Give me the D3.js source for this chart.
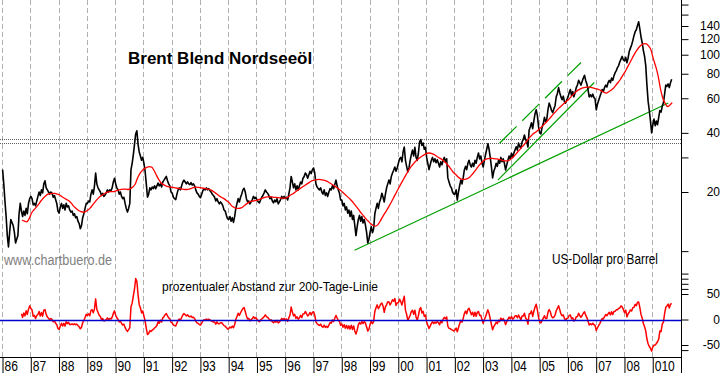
<!DOCTYPE html>
<html>
<head>
<meta charset="utf-8">
<script src="https://cdn.jsdelivr.net/npm/d3@7"></script>
<style>
body { margin: 0; background: #fff; }
text { font-family: "Liberation Sans", Arial, sans-serif; }
</style>
</head>
<body>
<div id="chart"></div>
<script>
// Brent, two values per month, starting Jan 1986
var priceStart = 1986;
var price = [
  26, 22, 18, 15, 12, 10.5, 12.5, 14.5, 14, 13.5, 12.5, 11, 11.5, 12, 15.5, 17.5, 16, 15, 16, 15.2, 16.5, 15.5, 17.5, 18.5,
  19, 18.5, 17.2, 17.5, 17, 18, 19, 20, 19.2, 20.5, 19.8, 22, 22.8, 21, 20.5, 20, 19.5, 20, 19.7, 18.8, 19.2, 18.3, 17.5, 16,
  15.6, 16.8, 17.5, 16.5, 17.2, 16.2, 17.5, 16.8, 17, 16.2, 15.8, 16, 15.2, 15.5, 14.8, 15, 14.2, 13.8, 13, 13.5, 14.8, 15.5, 16.5, 17.5,
  17.5, 18, 17.8, 19.5, 20.5, 19.5, 21.5, 25, 22, 21, 20.5, 20, 19.2, 19.7, 19, 19.3, 19.8, 20.5, 20, 20.5, 20.3, 21, 22.5, 23.5,
  22, 21, 20.5, 19.5, 20, 19, 18.5, 18.8, 17.5, 16.5, 15.8, 16.5, 17.5, 26, 28, 31, 35, 39.5, 41, 35, 32, 30.5, 29, 30,
  28, 25.5, 22, 18.8, 19.5, 21, 20.5, 21.2, 20.8, 21.5, 20.8, 21.5, 22.2, 21.5, 22, 21.2, 22.5, 23, 23.5, 24, 22.8, 22, 21.5, 20,
  19.7, 18.8, 18.5, 18.3, 19.5, 20.5, 21, 20.5, 21.5, 22.5, 23, 22.5, 22, 22.5, 22, 21.8, 22.3, 21.7, 22, 21.5, 20.5, 19.8, 19.5, 19,
  18.7, 19.5, 20.3, 20.8, 20.5, 21, 20.5, 20.8, 20.3, 20, 19.5, 19.2, 18.8, 18, 18.5, 17.8, 17.4, 17.8, 17.5, 17, 16.2, 16, 15.2, 14.6,
  14.5, 15, 14.2, 14.8, 14, 15, 16.5, 17.5, 18.5, 17.8, 18.8, 19.5, 20.5, 20.9, 20, 18.5, 17.8, 18, 17.4, 17.8, 18.3, 19, 18.5, 18.8,
  18.2, 17.8, 17.6, 18.2, 18.8, 19.2, 19.8, 20.5, 20, 19.7, 19.2, 18.5, 18.8, 18, 17.6, 18.2, 17.8, 18.5, 17.4, 17.8, 18.3, 19, 18.5, 19,
  18.5, 18.8, 18.2, 19.5, 21, 24, 22.5, 21, 22, 20.5, 21.5, 20.5, 21.5, 22.5, 22, 23.5, 24, 25, 24.5, 23.5, 24.5, 25.5, 24.8, 26,
  26.5, 25, 22, 21.2, 20.8, 20.5, 21, 20, 19.5, 20.5, 19.2, 19.8, 19, 20, 20.8, 20.5, 21.5, 20.8, 21.8, 23, 21.5, 20.5, 19.7, 18.2,
  18.2, 17, 17.5, 16.2, 16.8, 15.6, 16.2, 15, 16, 14.5, 15.2, 13.5, 12, 13.3, 14.5, 15.2, 14.2, 15, 13.9, 14.5, 13.6, 12.5, 11, 11.5,
  12.5, 13.3, 12.4, 13, 15.5, 16.5, 17.5, 16.5, 17.8, 18.5, 19.7, 18.8, 17.8, 19.5, 21, 22, 23, 22, 24, 25, 25.8, 26.8, 25.5, 26.5,
  28, 29.5, 30, 28.5, 32, 33.9, 29, 27, 25.3, 26.5, 29, 31, 32.7, 30.5, 33.8, 30, 29, 31.5, 36, 37, 34.5, 35.5, 33, 33.8,
  30, 28, 26, 27.5, 29, 30, 28.5, 29.5, 28.2, 29.2, 28, 26.8, 28.5, 27.5, 29, 30, 28.5, 29.5, 23.6, 22.5, 21.5, 21, 20, 19.5,
  19.5, 20.5, 18.2, 20, 21.5, 23, 22, 23.6, 25.9, 27, 26, 28, 29, 27.5, 26.8, 28, 27, 29, 28, 30, 31.6, 29.5, 30.5, 28,
  26.8, 29, 31, 33, 35.2, 33, 30, 26.8, 23.6, 25.5, 26.5, 28, 27, 29, 28, 30, 28.5, 29.5, 28, 25.9, 27.5, 29, 30.5, 29.5,
  31.5, 30, 31.5, 32.7, 34, 32.7, 35.5, 34, 33.5, 36, 37, 39, 37, 36, 33.9, 41.3, 43, 45, 42, 46, 50, 52.4, 49, 43,
  40, 39.5, 42.7, 44.6, 48, 45.5, 47, 52.5, 56.7, 54.6, 52, 50.7, 53, 55, 61, 63.5, 68, 64, 61, 59, 61.5, 57.5, 56.7, 59,
  61, 64, 66.5, 62, 65, 61, 64, 68, 70, 74, 72, 70, 73, 76, 78.6, 74, 71, 66.5, 61, 62.5, 61, 63, 60.5, 59.5,
  52.4, 56, 58.5, 61, 63.5, 66.5, 65, 68, 70, 68.5, 72, 74, 72, 76, 74, 78, 81, 83, 86, 88, 92, 95, 98, 94,
  93, 97, 91, 96, 104, 108, 112, 118, 125, 131, 134, 141, 147, 135, 123, 115, 105, 98, 88, 70, 58, 52, 46, 40,
  44, 47, 43.5, 46, 44, 48, 52, 51, 54.6, 57, 63, 70, 69, 71, 68, 72, 75
];

// 200-Tage-Linie, one value per month, first value Sep 1986 (month index 8)
var maStartMonth = 8;
var ma = [
  14.4, 14.2, 14.1, 14.6,
  15.6, 16.2, 16.7, 17.3, 18.0, 18.6, 19.1, 19.5, 19.6, 19.7, 19.7, 19.5,
  19.3, 18.9, 18.6, 18.3, 18.0, 17.5, 16.9, 16.5, 16.1, 15.9, 15.8, 15.9,
  16.2, 16.6, 17.2, 17.8, 18.4, 18.9, 19.3, 19.6, 19.9, 20.1, 20.1, 20.1,
  20.3, 20.5, 20.6, 20.7, 20.7, 20.6, 20.8, 21.2, 21.9, 23.5, 24.8, 25.7,
  26.3, 26.7, 26.9, 26.8, 25.8, 24.4, 23.2, 22.3, 21.8, 21.5, 21.3, 21.2,
  21.1, 21.0, 20.9, 20.8, 20.7, 20.6, 20.6, 20.7, 20.9, 21.1, 21.2, 21.1,
  21.0, 20.9, 20.8, 20.7, 20.5, 20.2, 19.8, 19.4, 19.0, 18.7, 18.4, 18.0,
  17.6, 17.0, 16.7, 16.5, 16.5, 16.6, 16.9, 17.3, 17.6, 17.9, 18.0, 18.1,
  18.2, 18.4, 18.6, 18.8, 18.9, 18.9, 18.9, 18.8, 18.8, 18.7, 18.6, 18.6,
  18.6, 18.9, 19.3, 19.6, 20.0, 20.4, 20.8, 21.2, 21.6, 22.0, 22.4, 22.8,
  23.0, 23.1, 23.2, 23.1, 23.0, 22.8, 22.5, 22.1, 21.7, 21.3, 20.9, 20.5,
  20.0, 19.5, 19.0, 18.5, 18.0, 17.4, 16.8, 16.2, 15.6, 15.1, 14.6, 14.2,
  13.8, 13.5, 13.4, 13.6, 14.2, 14.9, 15.6, 16.3, 17.1, 18.0, 19.0, 20.0,
  21.1, 22.2, 23.3, 24.5, 25.7, 26.8, 27.7, 28.6, 29.4, 30.0, 30.6, 31.1,
  31.5, 31.6, 31.4, 31.0, 30.4, 29.9, 29.4, 28.8, 28.1, 27.2, 26.2, 25.2,
  24.6, 23.9, 23.4, 23.2, 23.2, 23.4, 23.8, 24.5, 25.4, 26.3, 27.3, 28.2,
  28.9, 29.4, 29.6, 29.7, 29.6, 29.5, 29.4, 29.2, 29.0, 28.8, 28.8, 29.1,
  29.8, 30.6, 31.6, 32.6, 33.7, 34.7, 36.0, 37.3, 38.5, 39.6, 40.3, 41.3,
  42.3, 43.4, 44.7, 46.0, 47.4, 49.0, 50.6, 52.1, 53.6, 55.0, 56.4, 57.8,
  59.2, 61.0, 62.8, 64.5, 66.0, 67.0, 67.7, 68.2, 68.4, 68.3, 67.9, 67.4,
  66.9, 66.3, 65.3, 64.3, 63.8, 64.8, 66.0, 67.5, 69.8, 72.2, 75.0, 78.5,
  82.0, 86.5, 91.0, 96.0, 101.0, 105.5, 109.5, 112.3, 114.0, 113.5, 110.5, 105.5,
  95.0, 87.0, 78.0, 67.0, 60.0, 56.5, 54.5, 55.5, 57.0
];

// trend lines [year, price]
var supportLine = [[1998.47, 10.1], [2009.57, 56.8]];
var channelLow = [[2003.54, 23.0], [2006.95, 72.2]];
var channelHigh = [[2003.60, 35.4], [2006.48, 91.3]];
var levelLines = [37.1, 35.5];

// axes
var tickYears = d3.range(1986, 2011);
var yearLabels = ["86", "87", "88", "89", "90", "91", "92", "93", "94", "95", "96", "97", "98", "99",
                  "00", "01", "02", "03", "04", "05", "06", "07", "08", "010", ""];
var priceTicks = [10, 20, 30, 40, 60, 80, 100, 120, 140, 160, 180];
var priceLabels = [20, 40, 60, 80, 100, 120, 140];
var oscTicks = [-60, -50, 0, 50, 60, 70, 80, 90];
var oscLabels = [-50, 0, 50];

var width = 723, height = 373;
var axisX = 681.5;

var svg = d3.select("#chart").append("svg")
    .attr("width", width)
    .attr("height", height);

var x = d3.scaleLinear().domain([1986, 2010]).range([2, 680.5]);
var y = d3.scaleLog().domain([20, 140]).range([192, 26]);
var yOsc = d3.scaleLinear().domain([-50, 50]).range([345, 294]);

function px(v) { return Math.round(v) + 0.5; }

// squeeze text a bit, the original font is narrow
function narrow(sel, f) {
  sel.each(function () {
    var w = this.getComputedTextLength();
    d3.select(this).attr("textLength", w * f).attr("lengthAdjust", "spacingAndGlyphs");
  });
}

// build the series
var priceData = price.map(function (v, k) { return { t: priceStart + (k + 0.5) / 24, v: v }; });
var maData = ma.map(function (v, i) { return { t: priceStart + (i + maStartMonth + 0.5) / 12, v: v }; });
var oscData = [];
price.forEach(function (v, k) {
  var m = Math.floor(k / 2) - maStartMonth;
  if (m >= 0 && m < ma.length) {
    oscData.push({ t: priceStart + (k + 0.5) / 24, v: (v / ma[m] - 1) * 100 });
  }
});

// dashed year grid
svg.append("g").selectAll("line")
  .data(tickYears.slice(0, -1))
  .enter().append("line")
    .attr("x1", function (d) { return px(x(d)); })
    .attr("x2", function (d) { return px(x(d)); })
    .attr("y1", 0)
    .attr("y2", 357)
    .attr("stroke", "#b0b0b0")
    .attr("stroke-dasharray", "5,3");

// horizontal resistance lines
svg.append("g").selectAll("line")
  .data(levelLines)
  .enter().append("line")
    .attr("x1", 0)
    .attr("x2", axisX)
    .attr("y1", function (d) { return px(y(d)); })
    .attr("y2", function (d) { return px(y(d)); })
    .attr("stroke", "#606060")
    .attr("stroke-dasharray", "1,1");

// trend lines
var tline = d3.line().x(function (d) { return x(d[0]); }).y(function (d) { return y(d[1]); });
svg.append("path").attr("d", tline(supportLine)).attr("fill", "none").attr("stroke", "#00a000").attr("stroke-width", 1.2);
svg.append("path").attr("d", tline(channelLow)).attr("fill", "none").attr("stroke", "#00a000").attr("stroke-width", 1.2);
svg.append("path").attr("d", tline(channelHigh)).attr("fill", "none").attr("stroke", "#00a000").attr("stroke-width", 1.2)
  .attr("stroke-dasharray", "24,8");

// price + 200 day line
var line = d3.line().x(function (d) { return x(d.t); }).y(function (d) { return y(d.v); });
svg.append("path").datum(priceData)
  .attr("d", line)
  .attr("fill", "none")
  .attr("stroke", "#000")
  .attr("stroke-width", 1.6)
  .attr("stroke-linejoin", "round");
svg.append("path").datum(maData)
  .attr("d", d3.line().curve(d3.curveMonotoneX).x(function (d) { return x(d.t); }).y(function (d) { return y(d.v); }))
  .attr("fill", "none")
  .attr("stroke", "#ff0000")
  .attr("stroke-width", 1.3);

// oscillator
svg.append("path").datum(oscData)
  .attr("d", d3.line().x(function (d) { return x(d.t); }).y(function (d) { return yOsc(d.v); }))
  .attr("fill", "none")
  .attr("stroke", "#ff0000")
  .attr("stroke-width", 1.5)
  .attr("stroke-linejoin", "round");
svg.append("line")
  .attr("x1", 0).attr("x2", axisX)
  .attr("y1", px(yOsc(0))).attr("y2", px(yOsc(0)))
  .attr("stroke", "#0000cc")
  .attr("stroke-width", 1.5);

// right axes
var ax1 = svg.append("g")
  .attr("transform", "translate(" + axisX + ",0)")
  .call(d3.axisRight(y).tickValues(priceTicks).tickSize(7)
    .tickFormat(function (d) { return priceLabels.indexOf(d) >= 0 ? d : ""; }));
var ax2 = svg.append("g")
  .attr("transform", "translate(" + axisX + ",0)")
  .call(d3.axisRight(yOsc).tickValues(oscTicks).tickSize(7)
    .tickFormat(function (d) { return oscLabels.indexOf(d) >= 0 ? d : ""; }));
[ax1, ax2].forEach(function (a) {
  a.select(".domain").remove();
  a.selectAll("line").attr("stroke", "#000");
  a.selectAll("text")
    .attr("x", 720 - axisX)
    .attr("text-anchor", "end")
    .attr("fill", "#000")
    .style("font-size", "12px");
});
svg.append("line")
  .attr("x1", axisX).attr("x2", axisX).attr("y1", 0).attr("y2", height)
  .attr("stroke", "#000");

// year axis at the bottom
var ax3 = svg.append("g")
  .attr("transform", "translate(0,357)")
  .call(d3.axisBottom(x).tickValues(tickYears).tickSize(16).tickSizeOuter(0)
    .tickFormat(function (d, i) { return yearLabels[i]; }));
ax3.select(".domain").remove();
ax3.selectAll(".tick line").attr("stroke", "#000").attr("transform", "translate(0.5,0)");
ax3.selectAll("text")
  .attr("x", 2)
  .attr("y", 14)
  .attr("dy", null)
  .attr("text-anchor", "start")
  .attr("fill", "#000")
  .style("font-size", "14px")
  .call(narrow, 0.86);
svg.append("line")
  .attr("x1", 0).attr("x2", axisX).attr("y1", 357.5).attr("y2", 357.5)
  .attr("stroke", "#000");

// texts
svg.append("text")
  .attr("x", 128).attr("y", 64)
  .style("font-size", "17px").style("font-weight", "bold")
  .text("Brent Blend Nordseeöl");
svg.append("text")
  .attr("x", 4).attr("y", 265)
  .attr("fill", "#808080")
  .style("font-size", "14px")
  .attr("textLength", 108).attr("lengthAdjust", "spacingAndGlyphs")
  .text("www.chartbuero.de");
svg.append("text")
  .attr("x", 552).attr("y", 264)
  .style("font-size", "14px")
  .attr("textLength", 106).attr("lengthAdjust", "spacingAndGlyphs")
  .text("US-Dollar pro Barrel");
svg.append("text")
  .attr("x", 162).attr("y", 291)
  .style("font-size", "13px")
  .attr("textLength", 216).attr("lengthAdjust", "spacingAndGlyphs")
  .text("prozentualer Abstand zur 200-Tage-Linie");
</script>
</body>
</html>
